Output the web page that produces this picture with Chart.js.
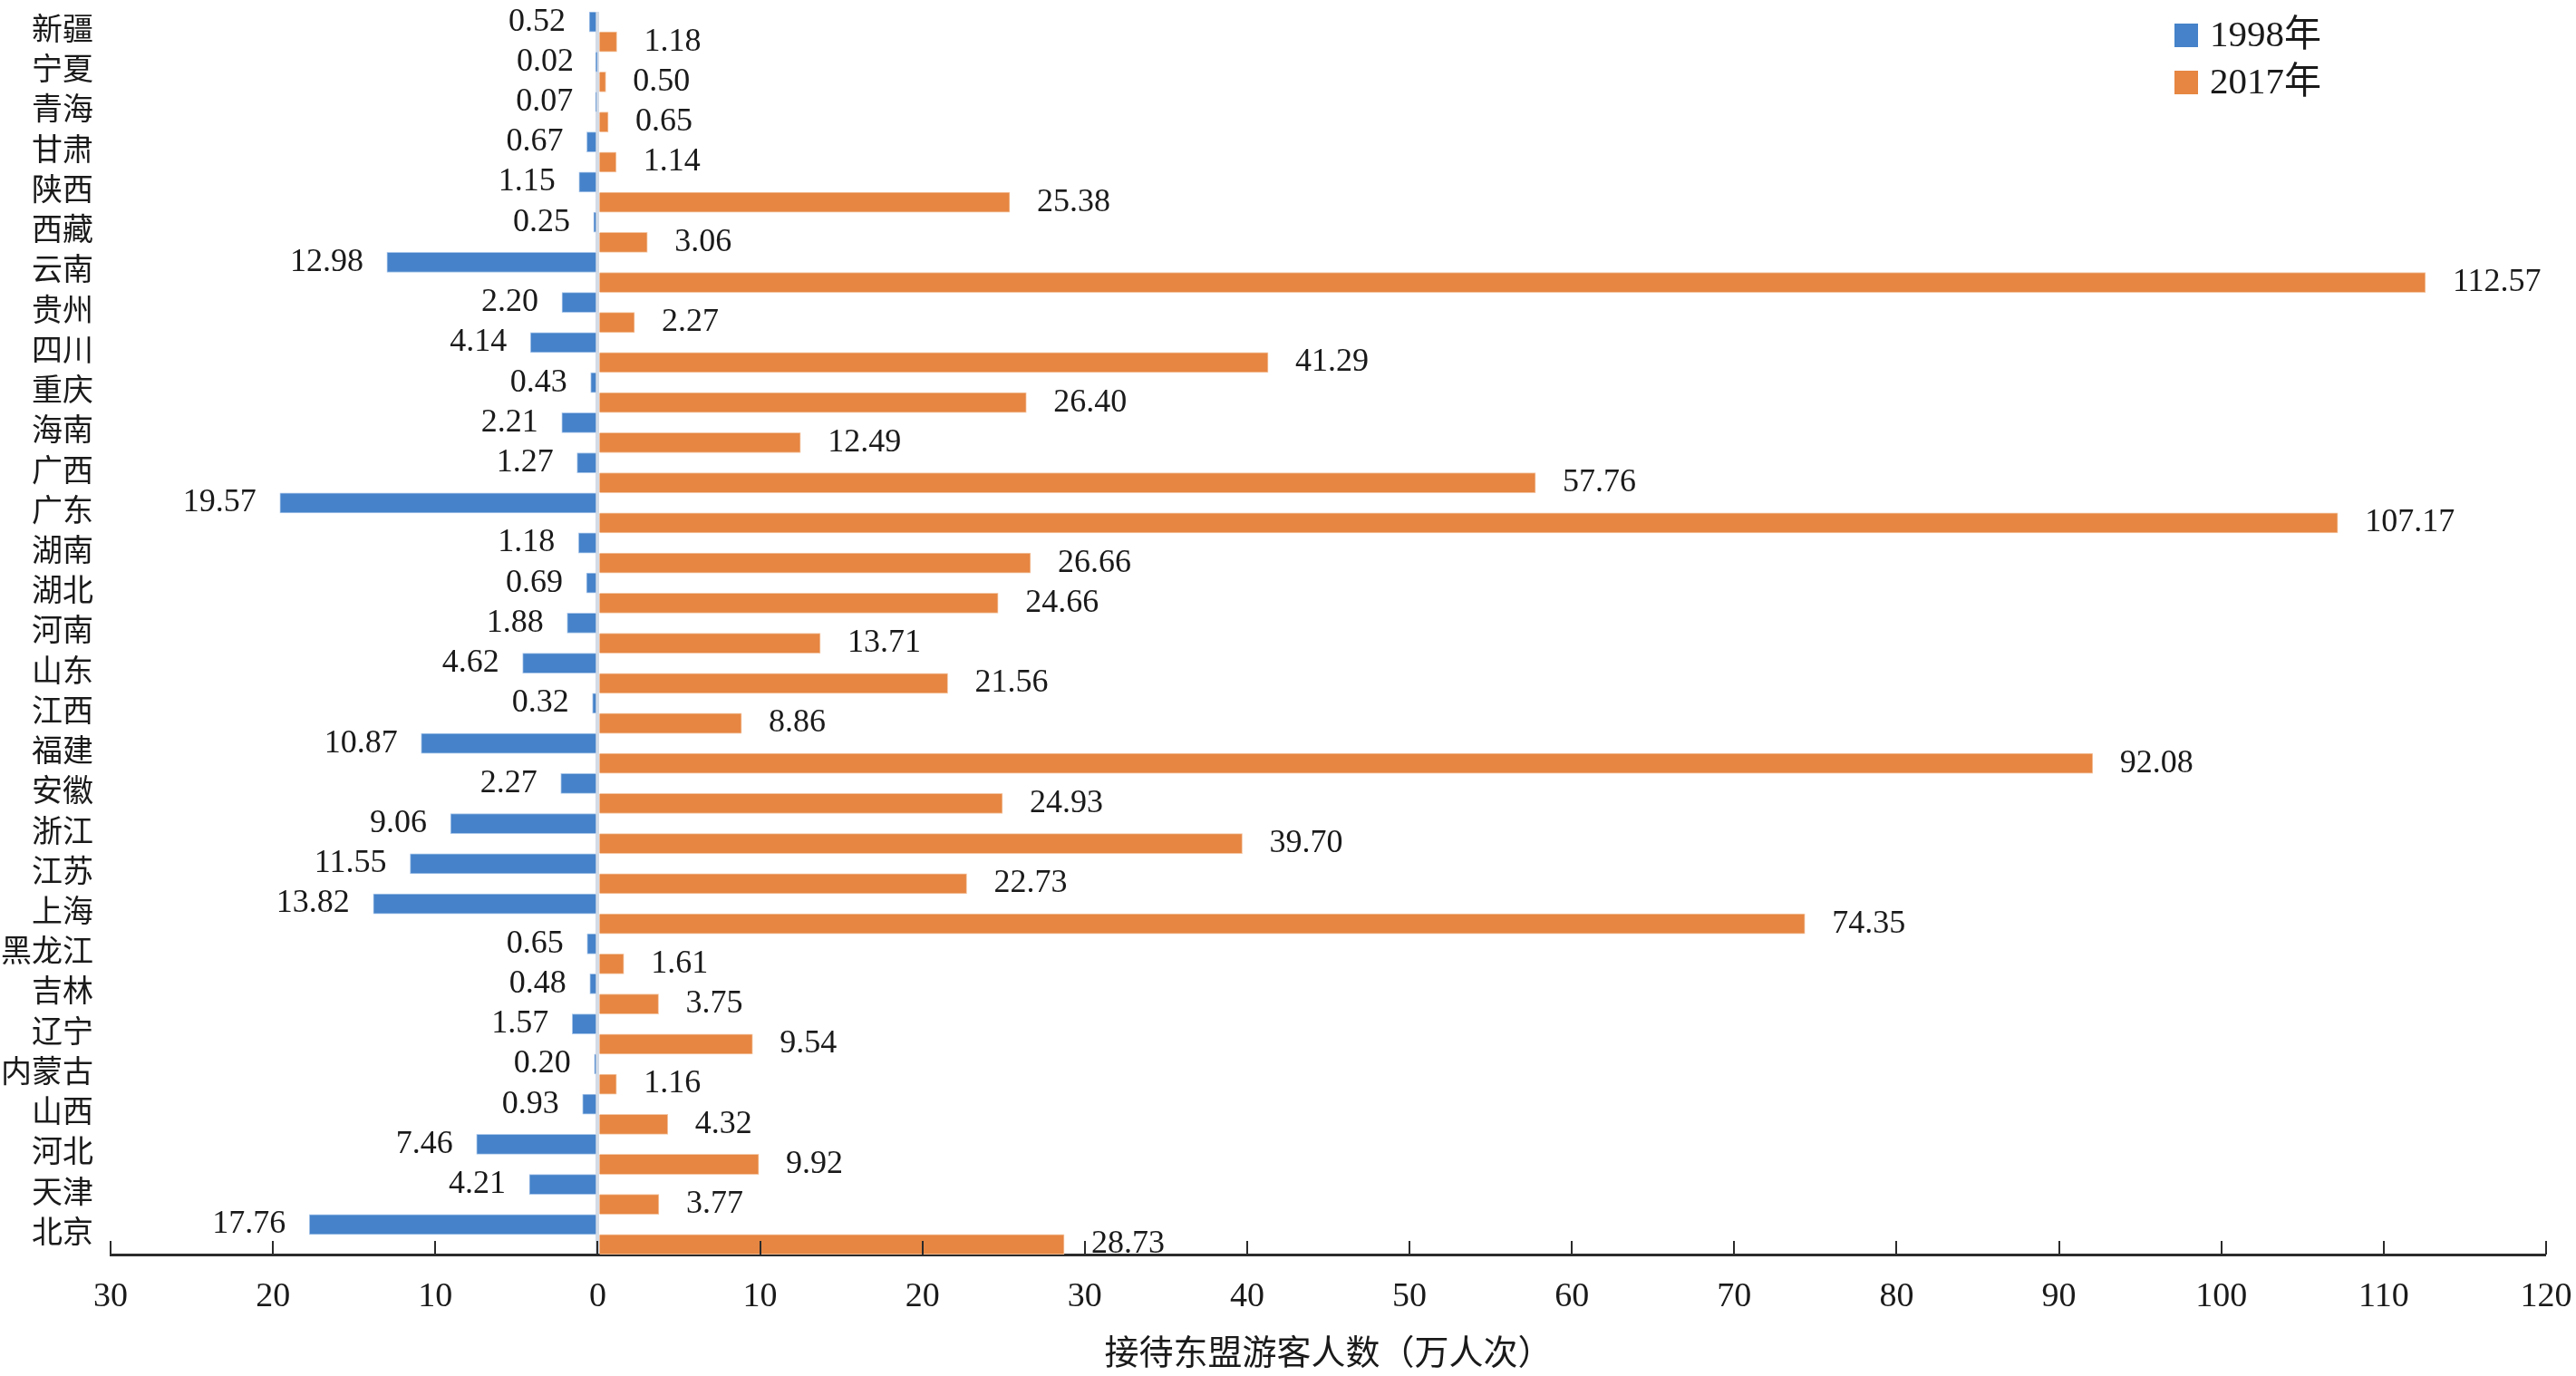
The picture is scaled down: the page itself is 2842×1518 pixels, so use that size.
<!DOCTYPE html>
<html>
<head>
<meta charset="utf-8">
<script src="https://cdn.jsdelivr.net/npm/chart.js@4.4.1/dist/chart.umd.min.js"></script>
<style>
  html, body { margin: 0; padding: 0; background: #fff; }
  #wrap { width: 2842px; height: 1518px; position: relative; }
</style>
</head>
<body>
<div id="wrap"><canvas id="asean"></canvas></div>
<script>
// data, top to bottom as in the picture
const provinces = ['新疆','宁夏','青海','甘肃','陕西','西藏','云南','贵州','四川','重庆','海南','广西','广东','湖南','湖北','河南','山东','江西','福建','安徽','浙江','江苏','上海','黑龙江','吉林','辽宁','内蒙古','山西','河北','天津','北京'];
const val1998 = [0.52,0.02,0.07,0.67,1.15,0.25,12.98,2.20,4.14,0.43,2.21,1.27,19.57,1.18,0.69,1.88,4.62,0.32,10.87,2.27,9.06,11.55,13.82,0.65,0.48,1.57,0.20,0.93,7.46,4.21,17.76];
const val2017 = [1.18,0.50,0.65,1.14,25.38,3.06,112.57,2.27,41.29,26.40,12.49,57.76,107.17,26.66,24.66,13.71,21.56,8.86,92.08,24.93,39.70,22.73,74.35,1.61,3.75,9.54,1.16,4.32,9.92,3.77,28.73];
const seriesNames = ['1998年','2017年'];
const xMin = -30, xMax = 120, xStep = 10;

const FONT = "'Liberation Serif', 'Noto Sans CJK SC', serif";
const BLUE = '#4582c9', ORANGE = '#e68642';

// value labels next to each bar
const barLabels = {
    id: 'barLabels',
    afterDatasetsDraw(chart) {
        const ctx = chart.ctx;
        ctx.save();
        ctx.font = '36px ' + FONT;
        ctx.fillStyle = '#1a1a1a';
        ctx.textBaseline = 'middle';
        chart.data.datasets.forEach((ds, di) => {
            const meta = chart.getDatasetMeta(di);
            meta.data.forEach((bar, i) => {
                const txt = Math.abs(ds.data[i]).toFixed(2);
                if (di === 0) {
                    ctx.textAlign = 'right';
                    ctx.fillText(txt, bar.x - 26, bar.y);
                } else {
                    ctx.textAlign = 'left';
                    ctx.fillText(txt, bar.x + 30, bar.y);
                }
            });
        });
        ctx.restore();
    }
};

// inward tick marks on the x axis
const innerTicks = {
    id: 'innerTicks',
    afterDraw(chart) {
        const ctx = chart.ctx;
        const xs = chart.scales.x;
        const yb = chart.chartArea.bottom;
        ctx.save();
        ctx.strokeStyle = '#2b2b2b';
        ctx.lineWidth = 2;
        xs.ticks.forEach(t => {
            const px = Math.round(xs.getPixelForValue(t.value));
            ctx.beginPath();
            ctx.moveTo(px, yb);
            ctx.lineTo(px, yb - 15);
            ctx.stroke();
        });
        ctx.restore();
    }
};

// legend in the upper right corner
const cornerLegend = {
    id: 'cornerLegend',
    afterDraw(chart) {
        const ctx = chart.ctx;
        ctx.save();
        ctx.font = '41px ' + FONT;
        ctx.textBaseline = 'middle';
        ctx.textAlign = 'left';
        chart.data.datasets.forEach((ds, i) => {
            const y = 26 + i * 52;
            ctx.fillStyle = ds.backgroundColor;
            ctx.fillRect(2399, y, 26, 26);
            ctx.fillStyle = '#1a1a1a';
            ctx.fillText(ds.label, 2438, y + 14);
        });
        ctx.restore();
    }
};

new Chart(document.getElementById('asean'), {
    type: 'bar',
    data: {
        labels: provinces,
        datasets: [
            {
                label: seriesNames[0],
                data: val1998.map(v => -v),
                backgroundColor: BLUE,
                borderColor: '#a9c6ea',
                borderWidth: 1
            },
            {
                label: seriesNames[1],
                data: val2017,
                backgroundColor: ORANGE,
                borderColor: '#f4c6a4',
                borderWidth: 1
            }
        ]
    },
    options: {
        indexAxis: 'y',
        responsive: true,
        maintainAspectRatio: false,
        devicePixelRatio: 1,
        animation: false,
        layout: { padding: { top: 13, right: 33, left: 0, bottom: 0 } },
        datasets: { bar: { barPercentage: 1, categoryPercentage: 1 } },
        plugins: {
            legend: { display: false },
            tooltip: { enabled: false }
        },
        scales: {
            x: {
                type: 'linear',
                min: xMin,
                max: xMax,
                afterFit: (s) => {
                    s.height = 134;
                    s.paddingLeft = 0;
                    s.paddingRight = 0;
                },
                ticks: {
                    stepSize: xStep,
                    callback: (v) => Math.abs(v),
                    color: '#1a1a1a',
                    font: { family: FONT, size: 38 },
                    padding: 24,
                    maxRotation: 0,
                    autoSkip: false
                },
                grid: {
                    drawTicks: false,
                    color: (c) => c.tick && c.tick.value === 0 ? '#d3dbe6' : 'rgba(0,0,0,0)',
                    lineWidth: (c) => c.tick && c.tick.value === 0 ? 4 : 0
                },
                border: { display: true, color: '#2b2b2b', width: 3 },
                title: {
                    display: true,
                    text: '接待东盟游客人数（万人次）',
                    color: '#1a1a1a',
                    font: { family: FONT, size: 38 },
                    padding: { top: 0, bottom: 0 }
                }
            },
            y: {
                afterFit: (s) => {
                    s.width = 122;
                    s.paddingTop = 0;
                    s.paddingBottom = 0;
                },
                ticks: {
                    color: '#1a1a1a',
                    font: { family: FONT, size: 34 },
                    padding: 19,
                    autoSkip: false
                },
                grid: { display: false, drawTicks: false },
                border: { display: false }
            }
        }
    },
    plugins: [barLabels, innerTicks, cornerLegend]
});
</script>
</body>
</html>
